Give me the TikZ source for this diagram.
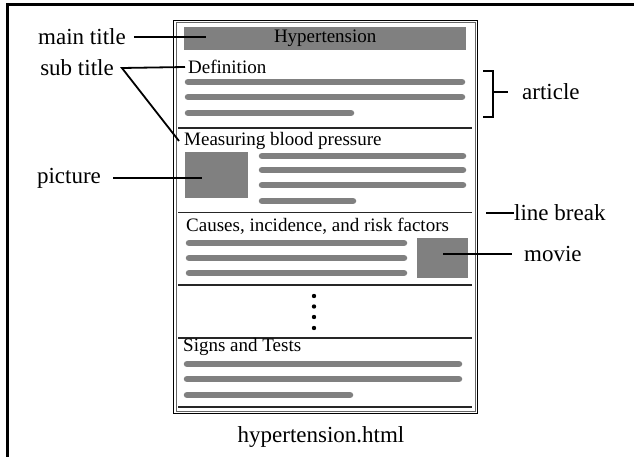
\documentclass[tikz,border=0pt]{standalone}
\usepackage{fontspec}
\setmainfont{Liberation Serif}
\definecolor{bargrey}{RGB}{128,128,128}
\tikzset{
  lbl/.style={inner sep=0pt, font=\fontsize{23}{23}\selectfont},
  head/.style={inner sep=0pt, anchor=west, font=\fontsize{19}{19}\selectfont},
  bar/.style={line width=6.5pt, line cap=round, draw=bargrey},
  block/.style={fill=bargrey, draw=none, inner sep=0pt, anchor=north west},
  sepline/.style={line width=1.1pt, draw=black!85},
  pointer/.style={line width=1.8pt}
}
\begin{document}
\begin{tikzpicture}[x=1pt,y=-1pt]
    \useasboundingbox (0,0) rectangle (634,457);
    % frame
    \draw[line width=2.5pt] (634,4.7) -- (7.7,4.7) -- (7.7,457);
    % page
    \draw[line width=1.3pt] (173.5,20.5) rectangle (477.5,413.5);
    \draw[line width=0.5pt, black!60] (176,22.5) rectangle (475,411);
    \node[block, minimum width=282pt, minimum height=23pt, font=\fontsize{19}{19}\selectfont] (titlebar) at (184,27) {Hypertension};
    % definition
    \node[head] (def) at (188,67) {Definition};
    \draw[bar] (188,82) -- (462,82);
    \draw[bar] (188,97) -- (462,97);
    \draw[bar] (188,113) -- (351,113);
    \draw[sepline] (178,128) -- (472,128);
    % measuring
    \node[head] (meas) at (184,141) {Measuring blood pressure};
    \node[block, minimum width=63pt, minimum height=46pt] (pic) at (185,152) {};
    \draw[bar] (262,156) -- (463,156);
    \draw[bar] (262,170) -- (463,170);
    \draw[bar] (262,185) -- (463,185);
    \draw[bar] (262,201) -- (353,201);
    \draw[sepline] (178,212.5) -- (472,212.5);
    % causes
    \node[head] (causes) at (186,226) {Causes, incidence, and risk factors};
    \draw[bar] (189,243) -- (404,243);
    \draw[bar] (189,258) -- (404,258);
    \draw[bar] (189,273) -- (404,273);
    \node[block, minimum width=51pt, minimum height=40pt] (mov) at (417,238) {};
    \draw[sepline] (178,285) -- (472,285);
    % more sections
    \foreach \y in {296,306.5,317,328}
        \fill (314,\y) circle (2.2);
    \draw[sepline] (178,338) -- (472,338);
    \node[head] (signs) at (183,347) {Signs and Tests};
    \draw[bar] (187,364) -- (459,364);
    \draw[bar] (187,379) -- (459,379);
    \draw[bar] (187,395) -- (350,395);
    \draw[sepline] (178,407) -- (472,407);
    \node[lbl] (file) at (321,437) {hypertension.html};
    % labels
    \node[lbl] (mainlbl) at (82,37) {main title};
    \coordinate (maintip) at (206,37);
    \draw[pointer] ([xshift=8pt]mainlbl.east) -- (maintip);
    \node[lbl] (sublbl) at (77,68) {sub title};
    \draw[pointer] ([xshift=-3pt]def.west) -- ([xshift=8pt]sublbl.east) -- ([xshift=-5pt]meas.west);
    \node[lbl, anchor=west] (artlbl) at (522,92) {article};
    \coordinate (brmid) at (493,92);
    \draw[pointer] (483,71) -- (493,71) -- (493,117) -- (483,117);
    \draw[pointer] (brmid) -- ([xshift=-14pt]artlbl.west);
    \node[lbl] (piclbl) at (69,178) {picture};
    \coordinate (pictip) at (202,178);
    \draw[pointer] ([xshift=12pt]piclbl.east) -- (pictip);
    \node[lbl, anchor=west] (brklbl) at (514,213) {line break};
    \coordinate (brk) at (486,213);
    \draw[pointer] (brk) -- (brklbl.west);
    \node[lbl, anchor=west] (movlbl) at (524,254) {movie};
    \coordinate (movtip) at (443,254);
    \draw[pointer] (movtip) -- ([xshift=-12pt]movlbl.west);
\end{tikzpicture}
\end{document}
